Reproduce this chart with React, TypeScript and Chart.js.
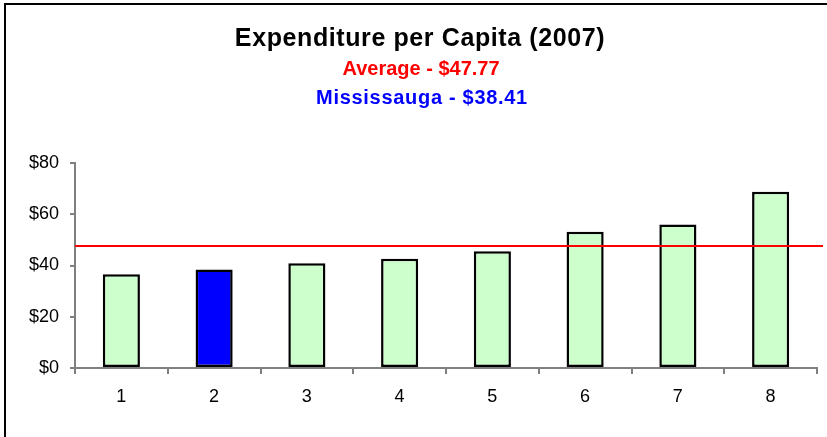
import React, { useEffect, useRef } from "react";
import { Chart, registerables } from "chart.js";

Chart.register(...registerables);

const categories: string[] = ["1", "2", "3", "4", "5", "6", "7", "8"];
const expenditure: number[] = [36.6, 38.41, 40.9, 42.6, 45.6, 53.2, 56.0, 68.8];
const averageValue = 47.77;
const highlightIndex = 1;
const yTicks: number[] = [0, 20, 40, 60, 80];

const titleText = "Expenditure per Capita (2007)";
const averageText = "Average - $47.77";
const highlightText = "Mississauga - $38.41";

const FONT = "'Liberation Sans', Arial, sans-serif";

const titlePlugin = {
  id: "customTitles",
  afterDraw(chart: any) {
    const ctx = chart.ctx as CanvasRenderingContext2D;
    ctx.save();
    ctx.textAlign = "center";
    ctx.textBaseline = "alphabetic";
    (ctx as any).letterSpacing = "0.6px";
    ctx.fillStyle = "#000000";
    ctx.font = `bold 25px ${FONT}`;
    ctx.fillText(titleText, 420, 46);
    (ctx as any).letterSpacing = "0px";
    ctx.font = `bold 20px ${FONT}`;
    ctx.fillStyle = "#ff0000";
    ctx.fillText(averageText, 421, 75);
    (ctx as any).letterSpacing = "0.7px";
    ctx.fillStyle = "#0000ff";
    ctx.fillText(highlightText, 422, 104);
    ctx.restore();
  },
};

const averageLinePlugin = {
  id: "averageLine",
  afterDatasetsDraw(chart: any) {
    const ctx = chart.ctx as CanvasRenderingContext2D;
    const y = chart.scales.y.getPixelForValue(averageValue);
    const { left, right } = chart.chartArea;
    ctx.save();
    ctx.strokeStyle = "#ff0000";
    ctx.lineWidth = 2;
    ctx.beginPath();
    ctx.moveTo(left, Math.round(y));
    ctx.lineTo(right + 6, Math.round(y));
    ctx.stroke();
    ctx.restore();
  },
};

export default function App() {
  const canvasRef = useRef<HTMLCanvasElement | null>(null);

  useEffect(() => {
    document.body.style.margin = "0";
    const canvas = canvasRef.current;
    if (!canvas) return;
    const colors = expenditure.map((_, i) => (i === highlightIndex ? "#0000ff" : "#ccffcc"));
    const chart = new Chart(canvas, {
      type: "bar",
      data: {
        labels: categories,
        datasets: [
          {
            data: expenditure,
            backgroundColor: colors,
            borderColor: "#000000",
            borderWidth: 2.5,
            borderSkipped: false,
            barPercentage: 0.4,
            categoryPercentage: 1.0,
          },
        ],
      },
      options: {
        responsive: false,
        animation: false,
        devicePixelRatio: 1,
        layout: { padding: { top: 163, right: 10, left: 0, bottom: 0 } },
        plugins: {
          legend: { display: false },
          title: { display: false },
          tooltip: { enabled: false },
        },
        scales: {
          x: {
            afterFit: (scale: any) => {
              scale.height = 69;
            },
            grid: {
              display: true,
              drawOnChartArea: false,
              drawTicks: true,
              tickLength: 6,
              color: "#808080",
              lineWidth: 2,
              offset: true,
            },
            border: { display: true, color: "#808080", width: 2 },
            ticks: {
              color: "#000000",
              font: { family: FONT, size: 18 },
              padding: 12,
              maxRotation: 0,
            },
          },
          y: {
            min: 0,
            max: 80,
            afterFit: (scale: any) => {
              scale.width = 75;
            },
            afterBuildTicks: (scale: any) => {
              scale.ticks = yTicks.map((v) => ({ value: v }));
            },
            grid: {
              display: true,
              drawOnChartArea: false,
              drawTicks: true,
              tickLength: 5,
              color: "#808080",
              lineWidth: 2,
            },
            border: { display: true, color: "#808080", width: 2 },
            ticks: {
              color: "#000000",
              font: { family: FONT, size: 18 },
              padding: 11,
              callback: (v: any) => "$" + v,
            },
          },
        },
      },
      plugins: [averageLinePlugin, titlePlugin],
    });
    return () => chart.destroy();
  }, []);

  return (
    <div style={{ position: "relative", width: 827, height: 437, overflow: "hidden", background: "#ffffff" }}>
      <div
        style={{
          position: "absolute",
          left: 4,
          top: 3,
          width: 900,
          height: 500,
          borderLeft: "2px solid #000000",
          borderTop: "2px solid #000000",
        }}
      />
      <canvas
        ref={canvasRef}
        width={827}
        height={437}
        style={{ position: "absolute", left: 0, top: 0, width: 827, height: 437 }}
      />
    </div>
  );
}
